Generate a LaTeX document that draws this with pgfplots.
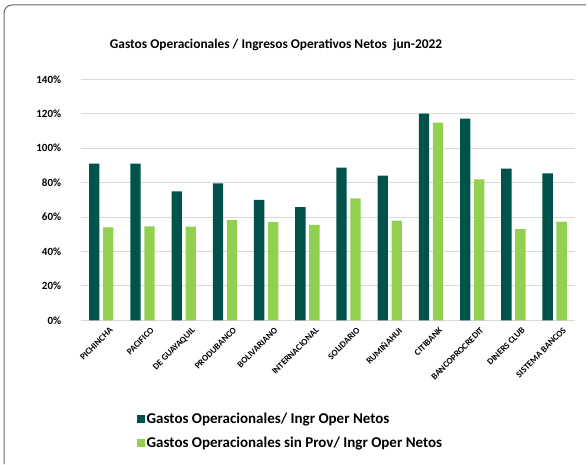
\documentclass[border=0pt]{standalone}
\usepackage{pgfplots}
\pgfplotsset{compat=1.18}
\usepackage{fontspec}
\setmainfont{Carlito}
\definecolor{dk}{HTML}{00534A}
\definecolor{lt}{HTML}{92D050}
\definecolor{gridc}{HTML}{D9D9D9}
\begin{document}
\begin{tikzpicture}[x=1pt,y=1pt]
\path[use as bounding box] (0,0) rectangle (588,464);
\draw[gray!80!black, line width=1pt, rounded corners=8pt] (4,0) -- (4,459) -- (586,459);
\node[font=\bfseries\fontsize{13.4}{15}\selectfont] at (276,419) {Gastos Operacionales / Ingresos Operativos Netos\ \ jun-2022};
\begin{axis}[
  at={(80.7pt,143.7pt)}, anchor=south west,
  scale only axis, width=494.5pt, height=241pt,
  ybar=3.7pt, bar width=10.3pt,
  xmin=-0.5, xmax=11.5, ymin=0, ymax=140,
  ytick={0,20,...,140},
  xtick={0,...,11},
  xticklabels={PICHINCHA,PACIFICO,DE GUAYAQUIL,PRODUBANCO,BOLIVARIANO,INTERNACIONAL,SOLIDARIO,RUMIÑAHUI,CITIBANK,BANCOPROCREDIT,DINERS CLUB,SISTEMA BANCOS},
  /pgf/number format/assume math mode=true,
  yticklabel={\pgfmathprintnumber{\tick}\%},
  yticklabel style={font=\bfseries\fontsize{11}{13}\selectfont, xshift=-16pt},
  xticklabel style={rotate=45, anchor=north east, font=\bfseries\fontsize{9}{10}\selectfont, inner sep=1pt, yshift=-9pt, xshift=2pt},
  axis line style={draw=none},
  major tick length=0pt,
  ymajorgrids, grid style={color=gridc, line width=0.9pt},
  legend style={at={(0.114,-0.376)}, anchor=north west, draw=none, inner sep=0pt,
    font=\bfseries\fontsize{15}{17}\selectfont, row sep=8pt, legend cell align=left},
  legend image code/.code={\fill[#1] (-2pt,-3.7pt) rectangle (5.4pt,3.7pt);},
]
\addplot[fill=dk, draw=none] coordinates {(0,91.0) (1,91.0) (2,74.9) (3,79.6) (4,69.9) (5,65.8) (6,88.7) (7,84.0) (8,120.0) (9,117.1) (10,88.1) (11,85.4)};
\addplot[fill=lt, draw=none] coordinates {(0,54.0) (1,54.6) (2,54.4) (3,58.4) (4,57.1) (5,55.4) (6,70.9) (7,57.9) (8,114.8) (9,81.9) (10,53.0) (11,57.3)};
\legend{Gastos Operacionales/ Ingr Oper Netos, Gastos Operacionales sin Prov/ Ingr Oper Netos}
\end{axis}
\end{tikzpicture}
\end{document}
